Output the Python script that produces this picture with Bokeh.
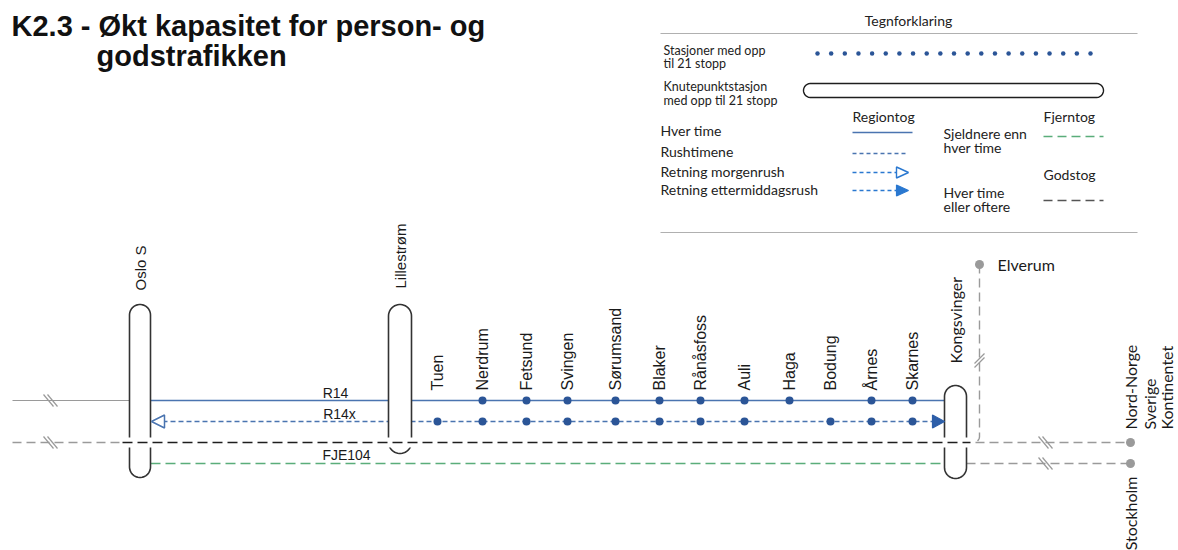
import numpy as np
from bokeh.plotting import figure
from bokeh.models import Range1d
from bokeh.embed import file_html
from bokeh.resources import INLINE
from bokeh.core.properties import value

# ---------------- data ----------------
TITLE = ["K2.3 - Økt kapasitet for person- og", "godstrafikken"]

stations = ["Tuen", "Nerdrum", "Fetsund", "Svingen", "Sørumsand", "Blaker",
            "Rånåsfoss", "Auli", "Haga", "Bodung", "Årnes", "Skarnes"]
station_x = [437, 482, 526, 567, 615, 659, 700, 744, 789, 830, 871, 912]
r14_stop = [0, 1, 1, 1, 1, 1, 1, 1, 1, 0, 1, 1]
r14x_stop = [1, 1, 1, 1, 1, 1, 1, 1, 0, 1, 1, 1]

hubs = ["Oslo S", "Lillestrøm", "Kongsvinger"]
hub_x = [139.5, 399.5, 955]
hub_top = [304, 304, 385]
hub_bottom = [477, 453, 478]
hub_label_bottom = [290, 288, 363]

routes = ["R14", "R14x", "FJE104"]
ends = ["Nord-Norge", "Sverige", "Kontinentet"]
end_x = [1130, 1149, 1166]

legend_title = "Tegnforklaring"
legend_stations = ["Stasjoner med opp", "til 21 stopp"]
legend_hub = ["Knutepunktstasjon", "med opp til 21 stopp"]
legend_rows = ["Hver time", "Rushtimene", "Retning morgenrush", "Retning ettermiddagsrush"]
n_stop_dots = 21

# ---------------- styles ----------------
ARIAL = value("Liberation Sans")
HUM = value("Lato")
BLUE = "#4a74b0"
DOT = "#2b5597"
BRIGHT = "#2a78d0"
GREEN = "#5aad7a"
GRAY = "#9a9a9a"
BLACK = "#1e1e1e"
OUT = "#333333"

Y_R14, Y_R14X, Y_FR, Y_FJE = 400, 421, 442, 463

W, H = 1178, 550
p = figure(width=W, height=H, x_range=Range1d(0, W), y_range=Range1d(H, 0),
           output_backend="svg", toolbar_location=None, x_axis_type=None,
           y_axis_type=None, min_border=0)
p.grid.visible = False
p.outline_line_color = None
p.background_fill_color = "white"
p.border_fill_color = "white"


def vstadium(xc, w, top, bottom, n=24):
    r = w / 2.0
    t = np.linspace(np.pi, 2 * np.pi, n)
    xs_top = xc + r * np.cos(t)
    ys_top = top + r + r * np.sin(t)
    t2 = np.linspace(0, np.pi, n)
    xs_bot = xc + r * np.cos(t2)
    ys_bot = bottom - r + r * np.sin(t2)
    return list(xs_top) + list(xs_bot), list(ys_top) + list(ys_bot)


def hstadium(left, right, yc, h, n=24):
    r = h / 2.0
    t = np.linspace(-np.pi / 2, np.pi / 2, n)
    xs_r = right - r + r * np.cos(t)
    ys_r = yc + r * np.sin(t)
    t2 = np.linspace(np.pi / 2, 3 * np.pi / 2, n)
    xs_l = left + r + r * np.cos(t2)
    ys_l = yc + r * np.sin(t2)
    return list(xs_r) + list(xs_l), list(ys_r) + list(ys_l)


def slash(x, y, horizontal=True):
    if horizontal:
        xs = [[x - 7, x + 3], [x - 3, x + 7]]
        ys = [[y - 6, y + 6], [y - 6, y + 6]]
    else:
        xs = [[x - 5, x + 5], [x - 5, x + 5]]
        ys = [[y + 3, y - 7], [y + 7, y - 3]]
    p.multi_line(xs, ys, line_color=GRAY, line_width=1.2)


# ---------------- title ----------------
p.text(x=[11], y=[25], text=[TITLE[0]], text_font=ARIAL, text_font_style="bold",
       text_font_size="29px", text_baseline="middle", text_color="#111111")
p.text(x=[96], y=[55], text=[TITLE[1]], text_font=ARIAL, text_font_style="bold",
       text_font_size="29px", text_baseline="middle", text_color="#111111")

# ---------------- legend ----------------
p.text(x=[908], y=[20], text=[legend_title], text_font=HUM, text_font_size="14px",
       text_align="center", text_baseline="middle", text_color="#222222")
p.segment(x0=[660, 660], y0=[33, 232], x1=[1137, 1137], y1=[33, 232],
          line_color="#b0b0b0", line_width=1.2)
p.text(x=[663, 663], y=[50, 63], text=legend_stations, text_font=HUM,
       text_font_size="12.5px", text_baseline="middle", text_color="#222222")
p.text(x=[663, 663], y=[86, 100], text=legend_hub, text_font=HUM,
       text_font_size="12.5px", text_baseline="middle", text_color="#222222")
p.scatter(x=list(np.linspace(817, 1090, n_stop_dots)), y=[53] * n_stop_dots,
          size=4.5, fill_color=DOT, line_color=None)
lx, ly = hstadium(803, 1103, 90, 14)
p.patch(lx, ly, fill_color="white", line_color=BLACK, line_width=1.4)

p.text(x=[852, 1043], y=[116, 116], text=["Regiontog", "Fjerntog"], text_font=HUM,
       text_font_size="14px", text_baseline="middle", text_color="#222222")
p.text(x=[660] * 4, y=[130, 151, 171, 189], text=legend_rows, text_font=HUM,
       text_font_size="14px", text_baseline="middle", text_color="#222222")
p.text(x=[943, 943, 943, 943], y=[133, 147, 192, 206],
       text=["Sjeldnere enn", "hver time", "Hver time", "eller oftere"], text_font=HUM,
       text_font_size="14px", text_baseline="middle", text_color="#222222")
p.text(x=[1043], y=[174], text=["Godstog"], text_font=HUM,
       text_font_size="14px", text_baseline="middle", text_color="#222222")

p.line([852, 912], [132, 132], line_color=BLUE, line_width=1.6)
p.line([852, 907], [153, 153], line_color=BLUE, line_width=1.3, line_dash="4 3")
p.line([852, 897], [172, 172], line_color=BRIGHT, line_width=1.3, line_dash="4 3")
p.patch([896, 908, 896], [166.5, 172, 177.5], fill_color="white", line_color=BRIGHT, line_width=1.4)
p.line([852, 897], [190, 190], line_color=BRIGHT, line_width=1.3, line_dash="4 3")
p.patch([896, 908, 896], [184.5, 190, 195.5], fill_color=BRIGHT, line_color=BRIGHT, line_width=1.2)
p.line([1043, 1103], [136, 136], line_color=GREEN, line_width=1.5, line_dash="9 5")
p.line([1043, 1103], [200, 200], line_color="#555555", line_width=1.5, line_dash="9 5")

# ---------------- network ----------------
oslo_l = hub_x[0] - 10.5
oslo_r = hub_x[0] + 10.5
kong_l = hub_x[2] - 11
kong_r = hub_x[2] + 11

p.line([12, oslo_l], [Y_R14, Y_R14], line_color=GRAY, line_width=1.2)
p.line([oslo_r, kong_l], [Y_R14, Y_R14], line_color=BLUE, line_width=1.6)
p.line([oslo_r + 12, kong_l - 11], [Y_R14X, Y_R14X], line_color=BLUE, line_width=1.4,
       line_dash="5 3")
p.line([oslo_r, kong_l], [Y_FJE, Y_FJE], line_color=GREEN, line_width=1.5, line_dash="10 5")
p.line([kong_r, 1130], [Y_FJE, Y_FJE], line_color=GRAY, line_width=1.4, line_dash="9 5")

ang = np.linspace(0, np.pi / 2, 10)
bx = [979, 979] + list(973 + 6 * np.cos(ang))
by = [264, 436] + list(436 + 6 * np.sin(ang))
p.line(bx, by, line_color=GRAY, line_width=1.4, line_dash="9 5")

for xc, t, b in zip(hub_x, hub_top, hub_bottom):
    w = 21 if xc < 300 else (23 if xc < 500 else 22)
    sx, sy = vstadium(xc, w, t, b)
    p.patch(sx, sy, fill_color="white", line_color=OUT, line_width=1.6)
    p.quad(left=[xc - w / 2 - 2], right=[xc + w / 2 + 2], top=[Y_FR - 5], bottom=[Y_FR + 5],
           fill_color="white", line_color=None)

p.line([12, 122], [Y_FR, Y_FR], line_color=GRAY, line_width=1.4, line_dash="9 5")
p.line([122, 970], [Y_FR, Y_FR], line_color=BLACK, line_width=1.5, line_dash="10 5")
p.line([975, 1130], [Y_FR, Y_FR], line_color=GRAY, line_width=1.4, line_dash="9 5")

slash(50, Y_R14)
slash(50, Y_FR)
slash(1045, Y_FR)
slash(1045, Y_FJE)
slash(979, 360, horizontal=False)

p.patch([oslo_r + 1, oslo_r + 14, oslo_r + 14], [Y_R14X, Y_R14X - 6.5, Y_R14X + 6.5],
        fill_color="white", line_color=BLUE, line_width=1.5)
p.patch([kong_l, kong_l - 12, kong_l - 12], [Y_R14X, Y_R14X - 6.5, Y_R14X + 6.5],
        fill_color="#2d5ea8", line_color="#2d5ea8", line_width=1.2)

r14_x = [x for x, s in zip(station_x, r14_stop) if s]
r14x_x = [x for x, s in zip(station_x, r14x_stop) if s]
p.scatter(x=r14_x, y=[Y_R14] * len(r14_x), size=8, fill_color=DOT, line_color=None)
p.scatter(x=r14x_x, y=[Y_R14X] * len(r14x_x), size=8, fill_color=DOT, line_color=None)

p.scatter(x=[979, 1130, 1130], y=[264, Y_FR, Y_FJE], size=9, fill_color=GRAY, line_color=None)

p.text(x=[335, 339, 346], y=[392, 413, 454], text=routes, text_font=ARIAL,
       text_font_size="14px", text_align="center", text_baseline="middle",
       text_color="#1a1a1a")

p.text(x=station_x, y=[390] * len(stations), text=stations, text_font=ARIAL,
       text_font_size="16px", angle=np.pi / 2, text_align="left", text_baseline="middle",
       text_color="#1a1a1a")
p.text(x=hub_x[:2], y=hub_label_bottom[:2], text=hubs[:2], text_font=ARIAL,
       text_font_size="15px", angle=np.pi / 2, text_align="left", text_baseline="middle",
       text_color="#1a1a1a")
p.text(x=[hub_x[2]], y=[hub_label_bottom[2]], text=[hubs[2]], text_font=HUM,
       text_font_size="16px", angle=np.pi / 2, text_align="left", text_baseline="middle",
       text_color="#1a1a1a")
p.text(x=end_x, y=[429] * 3, text=ends, text_font=HUM, text_font_size="16px",
       angle=np.pi / 2, text_align="left", text_baseline="middle", text_color="#1a1a1a")
p.text(x=[1130], y=[476], text=["Stockholm"], text_font=HUM, text_font_size="16px",
       angle=np.pi / 2, text_align="right", text_baseline="middle", text_color="#1a1a1a")
p.text(x=[997], y=[264], text=["Elverum"], text_font=HUM, text_font_size="16px",
       text_baseline="middle", text_color="#1a1a1a")

open("out.html", "w").write(file_html(p, INLINE))
